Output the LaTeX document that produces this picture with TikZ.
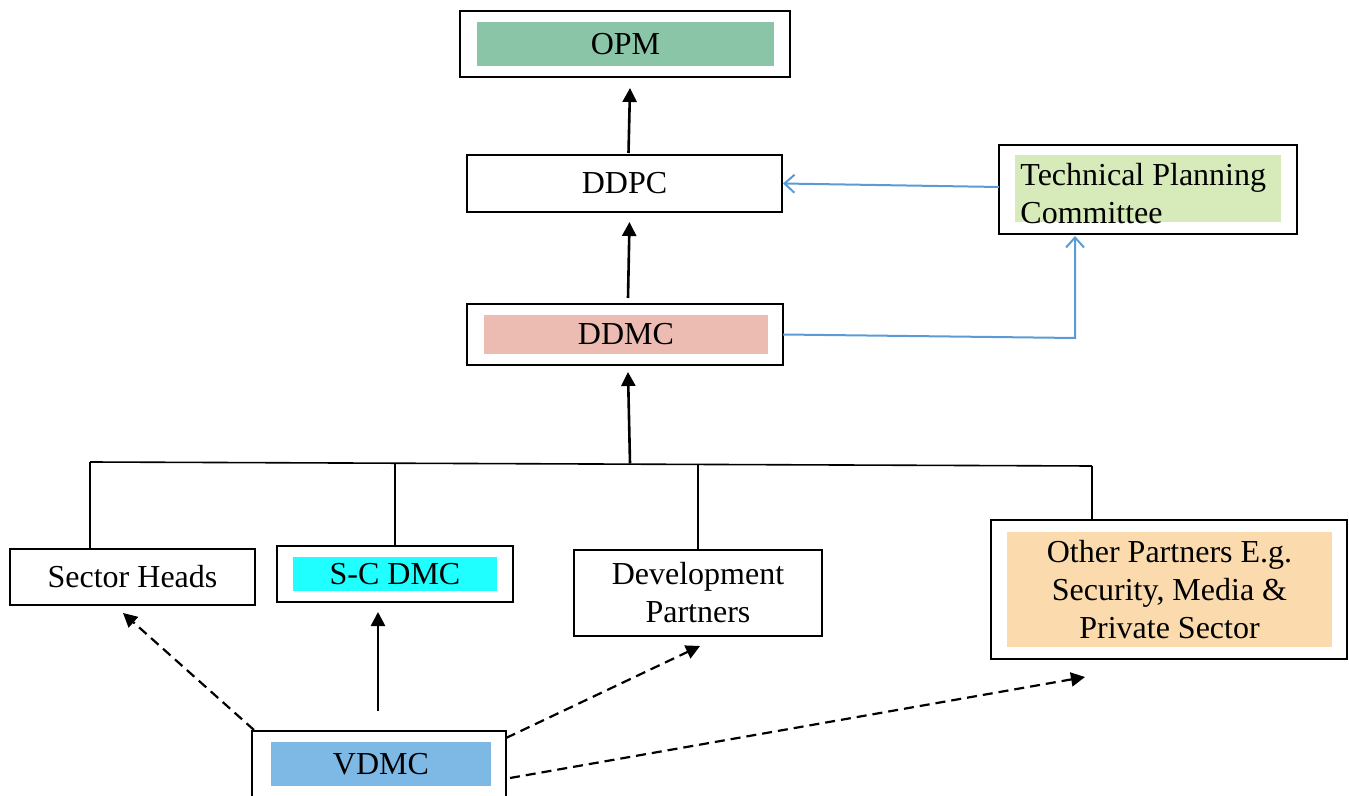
\documentclass[tikz,border=0pt]{standalone}
\usepackage{fontspec}
\setmainfont{Liberation Serif}
\usetikzlibrary{arrows.meta,calc}
\definecolor{opmgreen}{HTML}{8AC5A7}
\definecolor{ddmcpink}{HTML}{ECBCB2}
\definecolor{sccyan}{HTML}{1FFFFF}
\definecolor{vdmcblue}{HTML}{7EB9E6}
\definecolor{tpcgreen}{HTML}{D7EAB9}
\definecolor{otherpeach}{HTML}{FBDBAD}
\definecolor{linkblue}{HTML}{5B9BD5}
\tikzset{
  box/.style={draw=black, line width=1pt, rectangle, inner sep=0pt, outer sep=0pt},
  band/.style={rectangle, inner sep=0pt, outer sep=0pt, draw=none},
  label/.style={font=\fontsize{16}{19}\selectfont, align=center},
  arr/.style={line width=1.3pt, -{Triangle[length=7pt,width=7pt]}},
  dasharr/.style={line width=1.1pt, dash pattern=on 5pt off 3pt, -{Triangle[length=7pt,width=7pt]}},
  link/.style={line width=1pt, draw=linkblue},
  linkarr/.style={link, -{Straight Barb[length=5pt,width=9pt]}},
  bus/.style={line width=0.8pt}
}
\begin{document}
\begin{tikzpicture}[x=0.5pt, y=-0.5pt]
\useasboundingbox (0,0) rectangle (1349,796);

% top level
\node[box, minimum width=165pt, minimum height=33pt] (opm) at (625,44) {};
\node[band, fill=opmgreen, minimum width=148.5pt, minimum height=22pt, label] (opmt) at (625.5,44) {OPM};

\node[box, minimum width=157.5pt, minimum height=28.5pt, label] (ddpc) at (624.5,183.5) {DDPC};

\node[box, minimum width=149pt, minimum height=44.5pt] (tpc) at (1148,189.5) {};
\node[band, fill=tpcgreen, minimum width=133pt, minimum height=33.5pt] (tpcf) at (1148,188.5) {};
\node[label, align=left, anchor=west, inner sep=0pt] (tpct) at (1020,194) {Technical Planning\\Committee};

\node[box, minimum width=158pt, minimum height=30.5pt] (ddmc) at (625,334.5) {};
\node[band, fill=ddmcpink, minimum width=142pt, minimum height=19.5pt, label] (ddmct) at (626,334.5) {DDMC};

% member level
\node[box, minimum width=122.5pt, minimum height=28pt, label] (sector) at (132.5,577) {Sector Heads};

\node[box, minimum width=118pt, minimum height=28pt] (scdmc) at (395,574) {};
\node[band, fill=sccyan, minimum width=102pt, minimum height=17pt, label] (scdmct) at (395,574) {S-C DMC};

\node[box, minimum width=124pt, minimum height=43pt, label] (devp) at (698,593) {Development\\Partners};

\node[box, minimum width=178pt, minimum height=69.5pt] (other) at (1169,589.5) {};
\node[band, fill=otherpeach, minimum width=162.5pt, minimum height=57.5pt, label] (othert) at (1169.5,589.5) {Other Partners E.g.\\Security, Media \&\\Private Sector};

% village level
\node[box, minimum width=127pt, minimum height=35pt] (vdmc) at (379,766) {};
\node[band, fill=vdmcblue, minimum width=110pt, minimum height=22pt, label] (vdmct) at (381,764) {VDMC};

% upward reporting
\draw[arr] ($(ddpc.north)+(4,-2)$) -- ($(opm.south)+(5,11)$);
\draw[arr] ($(ddmc.north)+(3,-6)$) -- ($(ddpc.south)+(5,10)$);

% horizontal bus joining the member groups
\coordinate (busL) at (90,462);
\coordinate (busR) at (1092,466);
\coordinate (busM) at (630,463.5);
\draw[bus] (busL) -- (busR);
\draw[arr] (busM) -- ($(ddmc.south)+(3,7)$);
\draw[bus] (busL) -- ($(sector.north)+(-42.5,0)$);
\draw[bus] (395,462.8) -- (scdmc.north);
\draw[bus] (698,464.8) -- (devp.north);
\draw[line width=1.3pt] (busR) -- ($(other.north)+(-77,0)$);

% technical planning links
\draw[linkarr] ($(tpc.west)+(0,-2.5)$) -- ($(ddpc.east)+(1,0)$);
\draw[linkarr] (ddmc.east) -- (1075,338) -- ($(tpc.south)+(-73,2)$);

% village to member groups
\draw[arr] ($(vdmc.north)+(-1,-20)$) -- ($(scdmc.south)+(-17,10)$);
\draw[dasharr] ($(vdmc.north west)+(2,-1)$) -- ($(sector.south)+(-9.5,8)$);
\draw[dasharr] ($(vdmc.north east)+(0,7)$) -- ($(devp.south)+(2,10)$);
\draw[dasharr] ($(vdmc.east)+(4,12)$) -- ($(other.south)+(-84,18)$);
\end{tikzpicture}
\end{document}
